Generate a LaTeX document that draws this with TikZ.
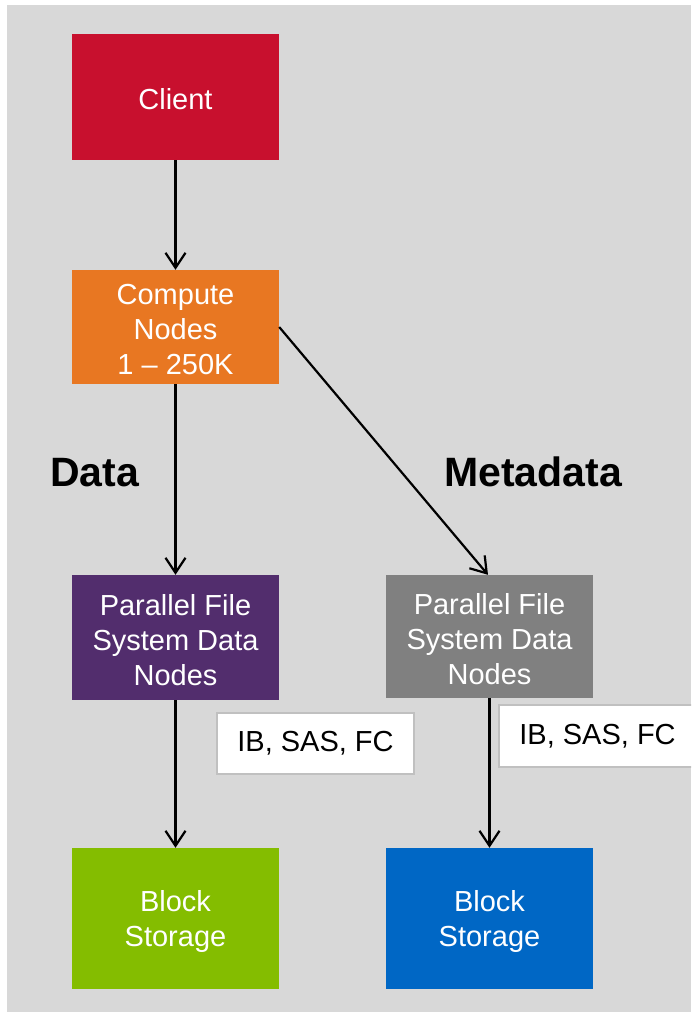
\documentclass[tikz,border=0pt]{standalone}
\usepackage{fontspec}
\setmainfont{Liberation Sans}
\usetikzlibrary{arrows.meta}
\definecolor{bggray}{HTML}{D8D8D8}
\definecolor{cred}{HTML}{C8102E}
\definecolor{corange}{HTML}{E87722}
\definecolor{cpurple}{HTML}{522D6D}
\definecolor{cgray}{HTML}{808080}
\definecolor{cgreen}{HTML}{84BD00}
\definecolor{cblue}{HTML}{0067C5}
\definecolor{cborder}{HTML}{C0C0C0}
\tikzset{
  box/.style={rectangle, inner sep=0pt, minimum width=207pt},
  boxtext/.style={inner sep=0pt, text=white, align=center,
    font=\fontsize{29}{35}\selectfont},
  tagbox/.style={rectangle, inner sep=0pt, fill=white, draw=cborder, line width=1.5pt,
    minimum width=197pt, font=\fontsize{29}{35}\selectfont},
  conn/.style={line width=2.2pt, -{Straight Barb[length=15pt,width=20pt,line width=2.2pt]}},
  biglabel/.style={inner sep=0pt, font=\fontsize{41}{48}\selectfont\bfseries}
}
\begin{document}
\begin{tikzpicture}[x=1pt,y=-1pt]
\useasboundingbox (0,0) rectangle (691,1012);
\clip (0,0) rectangle (691,1012);
\fill[bggray] (7,5) rectangle (691,1012);
\node[box, fill=cred, minimum height=126pt] (client) at (175.5,97) {};
\node[box, fill=corange, minimum height=114pt] (compute) at (175.5,327) {};
\node[box, fill=cpurple, minimum height=125pt] (pfsd) at (175.5,637.5) {};
\node[box, fill=cgray, minimum height=123pt] (pfsm) at (489.5,636.5) {};
\node[box, fill=cgreen, minimum height=141pt] (bsd) at (175.5,918.5) {};
\node[box, fill=cblue, minimum height=141pt] (bsm) at (489.5,918.5) {};
\node[boxtext] (tclient) at ([yshift=-2.5pt]client.center) {Client};
\node[boxtext] (tcompute) at ([yshift=-2.5pt]compute.center) {Compute\\Nodes\\1 -- 250K};
\node[boxtext] (tpfsd) at ([yshift=-2.5pt]pfsd.center) {Parallel File\\System Data\\Nodes};
\node[boxtext] (tpfsm) at ([yshift=-2.5pt]pfsm.center) {Parallel File\\System Data\\Nodes};
\node[boxtext] (tbsd) at ([yshift=-3pt]bsd.center) {Block\\Storage};
\node[boxtext] (tbsm) at ([yshift=-3pt]bsm.center) {Block\\Storage};
\node[tagbox, minimum height=61pt] (ibl) at (315.5,743.5) {IB, SAS, FC};
\node[tagbox, minimum height=62pt] (ibr) at (597.5,736) {IB, SAS, FC};
\node[biglabel, anchor=base west] (data) at (50,486) {Data};
\node[biglabel, anchor=base west] (meta) at (444,486) {Metadata};
\draw[conn] (client) -- (compute);
\draw[conn] (compute) -- (pfsd);
\draw[conn] (compute.east) -- ([xshift=-1.5pt]pfsm.north);
\draw[conn] (pfsd) -- (bsd);
\draw[conn] (pfsm) -- (bsm);
\end{tikzpicture}
\end{document}
